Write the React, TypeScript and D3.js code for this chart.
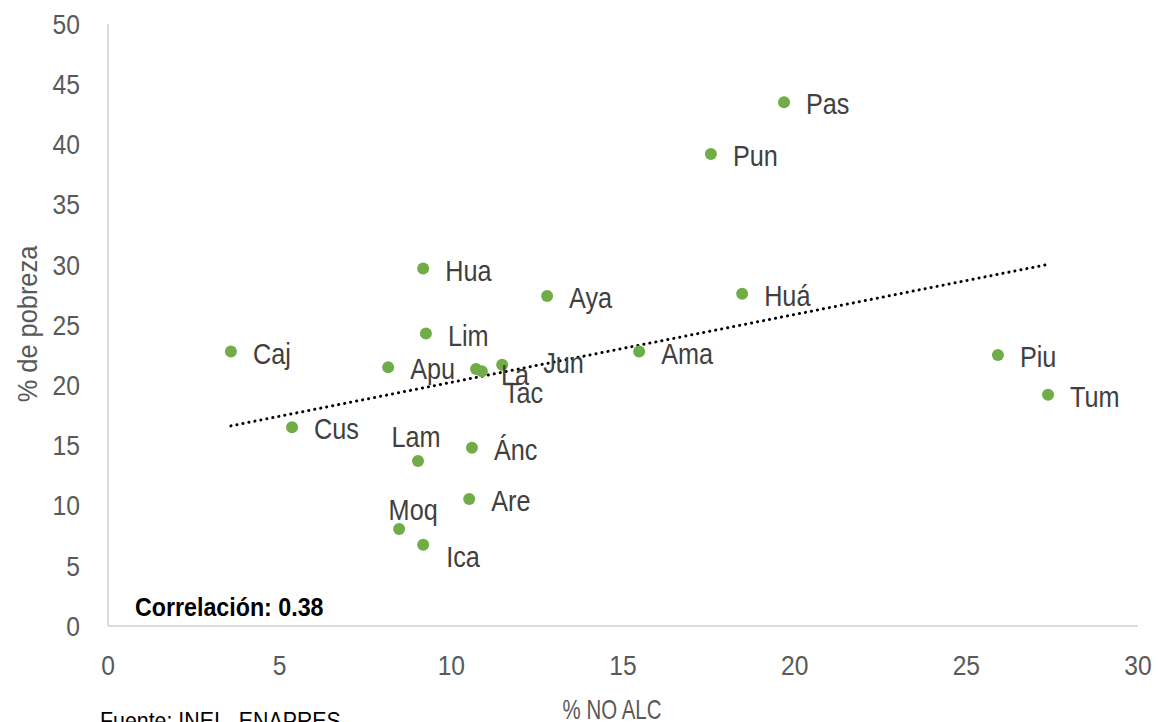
import React from "react";
import * as d3 from "d3";

const regions = ["Pas", "Pun", "Hua", "Aya", "Huá", "Lim", "Caj", "Apu", "La", "Tac", "Jun", "Ama", "Piu", "Tum", "Cus", "Lam", "Ánc", "Are", "Moq", "Ica"];
const noAlc = [19.69, 17.56, 9.18, 12.79, 18.47, 9.26, 3.58, 8.16, 10.72, 10.89, 11.48, 15.47, 25.92, 27.38, 5.36, 9.03, 10.6, 10.52, 8.48, 9.18];
const pobreza = [43.5, 39.2, 29.7, 27.4, 27.6, 24.3, 22.8, 21.5, 21.35, 21.15, 21.7, 22.8, 22.5, 19.2, 16.5, 13.7, 14.8, 10.55, 8.05, 6.75];
const xTicks = [0, 5, 10, 15, 20, 25, 30];
const yTicks = [0, 5, 10, 15, 20, 25, 30, 35, 40, 45, 50];

// label placement offsets (px) relative to each point
const labelOffsets: Record<string, [number, number, string]> = {
  Lam: [-2, -24, "middle"],
  Moq: [14, -19, "middle"],
  Ica: [23, 12, "start"],
  La: [25, 6, "start"],
  Tac: [22, 21, "start"],
  Jun: [41, -2, "start"],
};

const W = 1160, H = 722;
const FONT = "'Liberation Sans', Arial, sans-serif";

function T({ x, y, sx = 0.87, size = 28, anchor = "start", fill = "#404040", weight = "normal", rotate = 0, dy = "0.35em", children }: any) {
  return (
    <g transform={`translate(${x},${y}) rotate(${rotate}) scale(${sx},1)`}>
      <text x={0} y={0} dy={dy} textAnchor={anchor} fontSize={size} fill={fill} fontWeight={weight}>{children}</text>
    </g>
  );
}

export default function App() {
  const x = d3.scaleLinear().domain([0, 30]).range([108, 1138]);
  const y = d3.scaleLinear().domain([0, 50]).range([626, 24]);

  const n = noAlc.length;
  const mx = d3.mean(noAlc)!;
  const my = d3.mean(pobreza)!;
  let sxy = 0, sxx = 0;
  for (let i = 0; i < n; i++) {
    sxy += (noAlc[i] - mx) * (pobreza[i] - my);
    sxx += (noAlc[i] - mx) ** 2;
  }
  const slope = sxy / sxx;
  const intercept = my - slope * mx;
  const [x0, x1] = d3.extent(noAlc) as [number, number];
  const line = d3.line<number>().x((d) => x(d)).y((d) => y(intercept + slope * d));

  return (
    <svg width={W} height={H} style={{ position: "absolute", left: 0, top: 0, background: "#fff" }} fontFamily={FONT}>
      {/* axes */}
      <line x1={x(0)} x2={x(30)} y1={y(0)} y2={y(0)} stroke="#d0d0d0" strokeWidth={1.5} />
      <line x1={x(0)} x2={x(0)} y1={y(0)} y2={y(50)} stroke="#d0d0d0" strokeWidth={1.5} />
      {yTicks.map((t) => (
        <T key={"y" + t} x={80} y={y(t)} anchor="end" sx={0.88} fill="#595959">{t}</T>
      ))}
      {xTicks.map((t) => (
        <T key={"x" + t} x={x(t)} y={665} anchor="middle" sx={0.88} fill="#595959">{t}</T>
      ))}
      <T x={612} y={709} anchor="middle" sx={0.73} fill="#595959">% NO ALC</T>
      <T x={28} y={324} anchor="middle" sx={0.94} size={27} rotate={-90} fill="#595959">% de pobreza</T>

      {/* trend line */}
      <path d={line([x0, x1])!} fill="none" stroke="#000" strokeWidth={3} strokeDasharray="0.1 6" strokeLinecap="round" />

      {/* points */}
      {regions.map((r, i) => (
        <circle key={r} cx={x(noAlc[i])} cy={y(pobreza[i])} r={6} fill="#70ad47" />
      ))}
      {regions.map((r, i) => {
        const off = labelOffsets[r] || [22, 2, "start"];
        return (
          <T key={"l" + r} x={x(noAlc[i]) + off[0]} y={y(pobreza[i]) + off[1]} anchor={off[2]} size={29} sx={0.87} fill="#404040">{r}</T>
        );
      })}

      <T x={135} y={607} size={25} sx={0.93} weight="bold" fill="#000">Correlación: 0.38</T>
      <T x={100} y={729} size={24} sx={0.89} dy="0" fill="#000">Fuente: INEI - ENAPRES</T>
    </svg>
  );
}
